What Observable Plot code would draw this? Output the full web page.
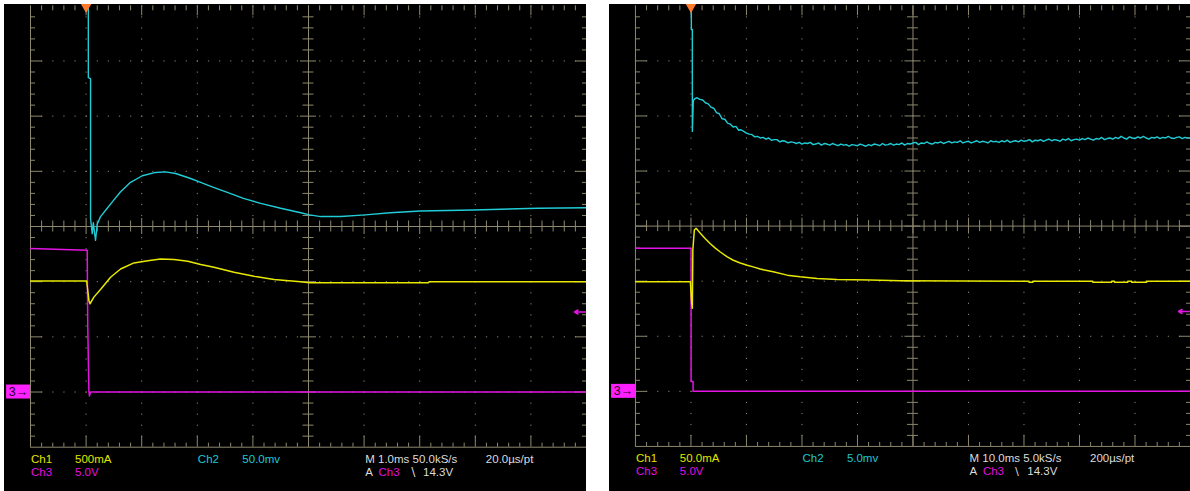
<!DOCTYPE html>
<html><head><meta charset="utf-8">
<script src="https://cdn.jsdelivr.net/npm/d3@7"></script>
<script src="https://cdn.jsdelivr.net/npm/@observablehq/plot@0.6"></script>
<style>
html,body{margin:0;padding:0;background:#fff;}
#wrap{position:relative;width:1190px;height:491px;overflow:hidden;background:#fff;}
.panel{position:absolute;top:4px;height:487px;background:#000;overflow:hidden;}
#left{left:4px;width:582px;}
#right{left:609px;width:581px;}
</style></head><body>
<div id="wrap"><div id="left" class="panel"></div><div id="right" class="panel"></div></div>
<script>
// ---------- DATA (time in ms relative to trigger, values in screen divisions) ----------
// Left capture: 1.0 ms/div
const leftCh2T = [0.04, 0.04, 0.08, 0.08, 0.11, 0.13, 0.15, 0.17, 0.20, 0.26, 0.38, 0.49, 0.62, 0.80, 1.01, 1.25, 1.43, 1.61, 1.88, 2.06, 2.29, 2.54, 2.83, 3.14, 3.50, 3.86, 4.02, 4.22, 4.58, 5.02, 5.47, 6.01, 6.97, 8.12, 9.0];
const leftCh2V = [4.3, 2.70, 2.68, 0.15, -0.13, 0.07, -0.10, -0.25, 0.04, 0.18, 0.33, 0.47, 0.63, 0.80, 0.92, 0.98, 0.99, 0.96, 0.87, 0.80, 0.71, 0.62, 0.51, 0.42, 0.33, 0.25, 0.21, 0.18, 0.18, 0.21, 0.25, 0.28, 0.30, 0.33, 0.34];
const leftCh1T = [-1.0, 0.01, 0.03, 0.05, 0.07, 0.14, 0.27, 0.44, 0.62, 0.86, 1.11, 1.34, 1.58, 1.83, 2.06, 2.30, 2.66, 3.02, 3.38, 3.86, 4.02, 6.16, 6.17, 9.0];
const leftCh1V = [-0.99, -0.99, -1.16, -1.34, -1.40, -1.28, -1.13, -0.92, -0.77, -0.66, -0.62, -0.59, -0.60, -0.63, -0.69, -0.74, -0.83, -0.90, -0.96, -1.00, -1.02, -1.02, -1.00, -1.00];
const leftCh3T = [-1.0, 0.02, 0.03, 0.05, 0.06, 0.08, 9.0];
const leftCh3V = [-0.40, -0.43, -1.83, -2.97, -3.07, -3.0, -3.0];

// Right capture: 10.0 ms/div
const rightCh2T = [0.07, 0.07, 0.25, 0.25, 0.43, 0.79, 1.1, 1.6, 2.1, 2.6, 3.1, 3.6, 4.1, 4.6, 5.1, 5.6, 6.1, 6.6, 7.1, 7.6, 8.1, 8.6,
  9, 9.5, 10, 10.5, 11, 11.5, 12, 12.5, 13, 13.5, 14, 14.5, 15, 15.5, 16, 16.5, 17, 17.5, 18, 18.5, 19, 19.5,
  20, 20.5, 21, 21.5, 22, 22.5, 23, 23.5, 24, 24.5, 25, 25.5, 26, 26.5, 27, 27.5, 28, 28.5, 29, 29.5,
  30, 30.5, 31, 31.5, 32, 32.5, 33, 33.5, 34, 34.5, 35, 35.5, 36, 36.5, 37, 37.5, 38, 38.5, 39, 39.5,
  40, 40.5, 41, 41.5, 42, 42.5, 43, 43.5, 44, 44.5, 45, 45.5, 46, 46.5, 47, 47.5, 48, 48.5, 49, 49.5,
  50, 50.5, 51, 51.5, 52, 52.5, 53, 53.5, 54, 54.5, 55, 55.5, 56, 56.5, 57, 57.5, 58, 58.5, 59, 59.5,
  60, 60.5, 61, 61.5, 62, 62.5, 63, 63.5, 64, 64.5, 65, 65.5, 66, 66.5, 67, 67.5, 68, 68.5, 69, 69.5,
  70, 70.5, 71, 71.5, 72, 72.5, 73, 73.5, 74, 74.5, 75, 75.5, 76, 76.5, 77, 77.5, 78, 78.5, 79, 79.5,
  80, 80.5, 81, 81.5, 82, 82.5, 83, 83.5, 84, 84.5, 85, 85.5, 86, 86.5, 87, 87.5, 88, 88.5, 89, 89.5, 90];
const rightCh2V = [4.3, 3.57, 3.57, 1.72, 2.28, 2.32, 2.33, 2.30, 2.29, 2.24, 2.22, 2.16, 2.14, 2.06, 2.04, 1.95, 1.94, 1.87, 1.85, 1.80, 1.81, 1.74,
  1.75, 1.72, 1.69, 1.67, 1.66, 1.62, 1.63, 1.60, 1.61, 1.58, 1.60, 1.56, 1.57, 1.57, 1.53, 1.55, 1.54, 1.51, 1.53, 1.52, 1.50, 1.52,
  1.49, 1.51, 1.50, 1.52, 1.48, 1.49, 1.51, 1.47, 1.50, 1.49, 1.47, 1.50, 1.48, 1.46, 1.49, 1.47, 1.48, 1.45, 1.48, 1.47,
  1.46, 1.49, 1.47, 1.45, 1.48, 1.46, 1.49, 1.48, 1.46, 1.50, 1.47, 1.48, 1.50, 1.47, 1.49, 1.48, 1.51, 1.47, 1.50, 1.49,
  1.51, 1.52, 1.48, 1.51, 1.50, 1.53, 1.50, 1.49, 1.52, 1.51, 1.53, 1.50, 1.52, 1.54, 1.51, 1.53, 1.52, 1.55, 1.51, 1.53,
  1.54, 1.51, 1.53, 1.55, 1.52, 1.54, 1.53, 1.51, 1.55, 1.53, 1.54, 1.52, 1.55, 1.53, 1.56, 1.52, 1.54, 1.55, 1.53, 1.56,
  1.54, 1.55, 1.57, 1.53, 1.56, 1.55, 1.57, 1.54, 1.56, 1.58, 1.55, 1.57, 1.56, 1.54, 1.58, 1.56, 1.59, 1.55, 1.57, 1.58,
  1.56, 1.59, 1.57, 1.60, 1.58, 1.56, 1.59, 1.58, 1.61, 1.57, 1.59, 1.60, 1.58, 1.61, 1.59, 1.63, 1.60, 1.58, 1.62, 1.60,
  1.59, 1.62, 1.60, 1.63, 1.60, 1.58, 1.61, 1.60, 1.62, 1.59, 1.61, 1.60, 1.63, 1.60, 1.59, 1.61, 1.62, 1.59, 1.61, 1.60, 1.60];
const rightCh1T = [-10, -0.1, 0.07, 0.25, 0.34, 0.61, 0.92, 1.69, 2.59, 3.49, 4.39, 5.29, 6.55, 7.63, 8.88, 10.13, 11.21, 12.47, 14.81, 17.33, 19.66, 22.72, 26.32, 32.26, 37.66,
  60.9, 60.9, 61.6, 61.6, 72.4, 72.4, 75.8, 75.8, 76.3, 76.3, 78.7, 78.7, 79.4, 79.4, 82.1, 82.1, 90];
const rightCh1V = [-1.01, -1.01, -1.34, -1.49, -0.43, -0.07, -0.04, -0.13, -0.23, -0.32, -0.40, -0.47, -0.56, -0.62, -0.67, -0.71, -0.74, -0.78, -0.83, -0.89, -0.92, -0.95, -0.97, -0.98, -0.99,
  -1.0, -1.02, -1.02, -1.0, -1.0, -1.02, -1.02, -1.0, -1.0, -1.02, -1.02, -1.0, -1.0, -1.02, -1.02, -1.0, -1.0];
const rightCh3T = [-10, 0.02, 0.02, 0.38, 0.38, 90];
const rightCh3V = [-0.40, -0.40, -2.82, -2.82, -3.0, -3.0];

// Markers (divisions)
const ch3Ground = -3.0;
const triggerLevelDiv = -1.55;

// Readouts
const leftRow1 = ["Ch1", "500mA", "Ch2", "50.0mv", "M 1.0ms 50.0kS/s", "20.0\u00b5s/pt"];
const rightRow1 = ["Ch1", "50.0mA", "Ch2", "5.0mv", "M 10.0ms 5.0kS/s", "200\u00b5s/pt"];
const row2 = ["Ch3", "5.0V", "A", "Ch3", "\u2216", "14.3V"];
const row1Colors = ["ch1", "ch1", "ch2", "ch2", "txt", "txt"];
const row2Colors = ["ch3", "ch3", "txt", "ch3", "txt", "txt"];

// ---------- LAYOUT / STYLE ----------
const row1Cols = [0.01, 0.80, 3.01, 3.81, 6.02, 8.19];
const row2Cols = [0.01, 0.80, 6.02, 6.26, 6.80, 7.06];
const COLORS = {ch1: "#e4e400", ch2: "#1ec8d4", ch3: "#e010e0", txt: "#dcdcdc"};
const TRACE = {ch1: "#e8e800", ch2: "#20ccd6", ch3: "#e414e4"};
const GRID = "#8e886e";
const PXX = 55.6, PXY = 55.175;

function panel(cfg) {
  const X = d => cfg.t0 + d * cfg.msPerDiv;
  const maj = d => Math.abs(d - Math.round(d)) < 1e-9;
  const minX = d3.range(1, 50).map(i => i / 5);
  const minY = d3.range(-19, 20).map(i => i / 5);
  const rec = (T, V) => T.map((t, i) => ({t, v: V[i]}));
  const marks = [
    // dotted grid
    Plot.ruleX([1, 2, 3, 4, 6, 7, 8, 9], {x: d => X(d), stroke: GRID, strokeDasharray: `1.2,${(PXY / 5 - 1.2).toFixed(3)}`}),
    Plot.ruleY([-3, -2, -1, 1, 2, 3], {y: d => d, stroke: GRID, strokeDasharray: `1.2,${(PXX / 5 - 1.2).toFixed(3)}`}),
    // solid lines
    Plot.ruleX([0, 5], {x: d => X(d), stroke: GRID}),
    Plot.ruleY([-4, 0], {y: d => d, stroke: GRID}),
    // ticks
    Plot.ruleX(minX, {x: d => X(d), y1: () => 4, y2: d => 4 - (maj(d) ? 10 : 5) / PXY, stroke: GRID}),
    Plot.ruleX(minX, {x: d => X(d), y1: () => -4, y2: d => -4 + (maj(d) ? 11 : 4) / PXY, stroke: GRID}),
    Plot.ruleX(minX, {x: d => X(d), y1: d => -(maj(d) ? 8 : 5.5) / PXY, y2: d => (maj(d) ? 8 : 5.5) / PXY, stroke: GRID}),
    Plot.ruleY(minY, {y: d => d, x1: () => X(0), x2: d => X((maj(d) ? 12 : 5) / PXX), stroke: GRID}),
    Plot.ruleY(minY, {y: d => d, x1: () => X(10), x2: d => X(10 - (maj(d) ? 11 : 4) / PXX), stroke: GRID}),
    Plot.ruleY(minY, {y: d => d, x1: d => X(5 - (maj(d) ? 8 : 5.5) / PXX), x2: d => X(5 + (maj(d) ? 8 : 5.5) / PXX), stroke: GRID}),
    // traces
    Plot.line(rec(cfg.ch3T, cfg.ch3V), {x: "t", y: "v", stroke: TRACE.ch3, strokeWidth: 1.5, clip: true}),
    Plot.line(rec(cfg.ch1T, cfg.ch1V), {x: "t", y: "v", stroke: TRACE.ch1, strokeWidth: 1.5, clip: true}),
    Plot.line(rec(cfg.ch2T, cfg.ch2V), {x: "t", y: "v", stroke: TRACE.ch2, strokeWidth: 1.4, clip: true}),
    // trigger position marker
    Plot.dot([0], {x: d => d, y: () => 4, symbol: "triangle", rotate: 180, r: 4, fill: "#ff7a2a", dy: 1}),
    // trigger level arrow
    Plot.arrow([triggerLevelDiv], {x1: () => X(10), x2: () => X(10 - 12 / PXX), y1: d => d, y2: d => d, stroke: TRACE.ch3, strokeWidth: 1.5, headLength: 6}),
    // ch3 ground marker
    Plot.rect([ch3Ground], {x1: () => X(-0.43), x2: () => X(0), y1: d => d - 7 / PXY, y2: d => d + 7 / PXY, fill: "#ff20ff"}),
    Plot.text([ch3Ground], {x: () => X(-0.215), y: d => d, text: () => "3\u2192", fill: "#2a002a", fontSize: 12.5, textAnchor: "middle", lineAnchor: "middle"}),
    // readouts
    Plot.text(cfg.row1, {x: (d, i) => X(row1Cols[i]), y: () => -4.214, text: d => d, fill: (d, i) => COLORS[row1Colors[i]], textAnchor: "start", lineAnchor: "middle", fontSize: 11.5}),
    Plot.text(row2, {x: (d, i) => X(row2Cols[i]), y: () => -4.459, text: d => d, fill: (d, i) => COLORS[row2Colors[i]], textAnchor: "start", lineAnchor: "middle", fontSize: 11.5})
  ];
  return Plot.plot({
    width: 582, height: 487,
    marginLeft: 26, marginRight: 0, marginTop: 1.3, marginBottom: 44.3,
    x: {domain: [X(0), X(10)], axis: null},
    y: {domain: [-4, 4], axis: null},
    style: {background: "#000", fontFamily: "'Liberation Sans', Arial, sans-serif", fontSize: "11.5px", overflow: "visible"},
    marks
  });
}

document.getElementById("left").append(panel({
  t0: -1.0, msPerDiv: 1.0,
  ch1T: leftCh1T, ch1V: leftCh1V, ch2T: leftCh2T, ch2V: leftCh2V, ch3T: leftCh3T, ch3V: leftCh3V,
  row1: leftRow1
}));
document.getElementById("right").append(panel({
  t0: -10, msPerDiv: 10,
  ch1T: rightCh1T, ch1V: rightCh1V, ch2T: rightCh2T, ch2V: rightCh2V, ch3T: rightCh3T, ch3V: rightCh3V,
  row1: rightRow1
}));
</script>
</body></html>
